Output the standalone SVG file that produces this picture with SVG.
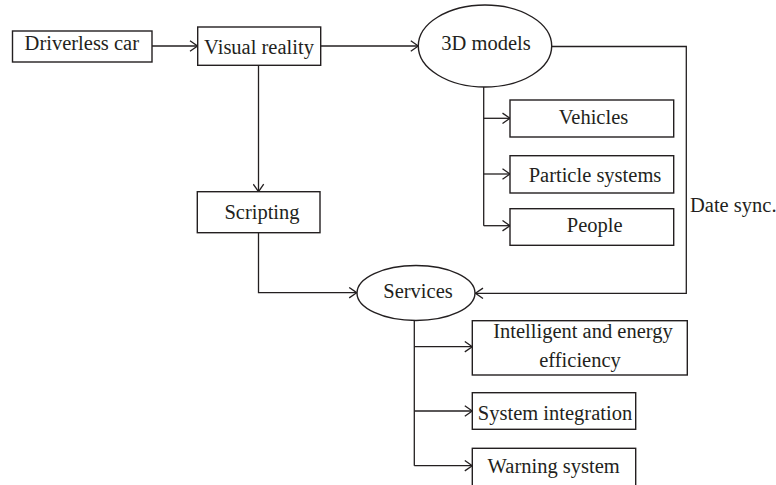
<svg xmlns="http://www.w3.org/2000/svg" width="776" height="485" viewBox="0 0 776 485" font-family="'Liberation Serif', 'DejaVu Serif', 'Times New Roman', serif">
<defs>
<marker id="arr" viewBox="0 0 10 12" refX="9.5" refY="6" markerWidth="10" markerHeight="12" markerUnits="userSpaceOnUse" orient="auto">
<path d="M2,0.8 L9.5,6 L2,11.2" fill="none" stroke="#231f20" stroke-width="1.3"/>
</marker>
<style>
.box{fill:#fff;stroke:#231f20;stroke-width:1.4}
.ln{fill:none;stroke:#231f20;stroke-width:1.3}
text{font-family:'Liberation Serif','DejaVu Serif',serif;font-size:20.5px;fill:#231f20;text-anchor:middle}
</style>
</defs>
<rect width="776" height="485" fill="#fff"/>
<g id="connectors">
<line class="ln" x1="152" y1="46" x2="197.5" y2="46" marker-end="url(#arr)"/>
<line class="ln" x1="320.7" y1="46" x2="418.3" y2="46" marker-end="url(#arr)"/>
<line class="ln" x1="258.5" y1="65.3" x2="258.5" y2="191.7" marker-end="url(#arr)"/>
<polyline class="ln" points="258.5,232.7 258.5,292.7 356.7,292.7" marker-end="url(#arr)"/>
<polyline class="ln" points="551.7,46.5 686.3,46.5 686.3,293.3 475.5,293.3" marker-end="url(#arr)"/>
<line class="ln" x1="483.7" y1="87" x2="483.7" y2="225.7"/>
<line class="ln" x1="483.7" y1="118.3" x2="510" y2="118.3" marker-end="url(#arr)"/>
<line class="ln" x1="483.7" y1="174" x2="510" y2="174" marker-end="url(#arr)"/>
<line class="ln" x1="483.7" y1="225.7" x2="510" y2="225.7" marker-end="url(#arr)"/>
<line class="ln" x1="414.3" y1="320" x2="414.3" y2="465.7"/>
<line class="ln" x1="414.3" y1="346.7" x2="472.3" y2="346.7" marker-end="url(#arr)"/>
<line class="ln" x1="414.3" y1="411" x2="472.3" y2="411" marker-end="url(#arr)"/>
<line class="ln" x1="414.3" y1="465.7" x2="472.3" y2="465.7" marker-end="url(#arr)"/>
<text x="690" y="211.5" style="text-anchor:start">Date sync.</text>
</g>
<g id="driverless-car">
<rect class="box" x="12.5" y="31" width="139.5" height="31"/>
<text x="81.8" y="50">Driverless car</text>
</g>
<g id="visual-reality">
<rect class="box" x="197.7" y="27" width="123" height="38.3"/>
<text x="259" y="54">Visual reality</text>
</g>
<g id="models-3d">
<ellipse class="box" cx="485" cy="46" rx="66.7" ry="41"/>
<text x="486" y="50">3D models</text>
</g>
<g id="vehicles">
<rect class="box" x="510" y="100" width="163.7" height="37"/>
<text x="593.5" y="124">Vehicles</text>
</g>
<g id="particle-systems">
<rect class="box" x="510" y="155.7" width="163.7" height="37.3"/>
<text x="595" y="181.7">Particle systems</text>
</g>
<g id="people">
<rect class="box" x="510" y="208.7" width="163.7" height="36.6"/>
<text x="594.7" y="231.7">People</text>
</g>
<g id="scripting">
<rect class="box" x="197.3" y="191.7" width="122.7" height="41"/>
<text x="262" y="219">Scripting</text>
</g>
<g id="services">
<ellipse class="box" cx="416" cy="293" rx="59" ry="27.5"/>
<text x="418" y="298.3">Services</text>
</g>
<g id="intelligent-energy">
<rect class="box" x="472.3" y="320.7" width="215" height="54.3"/>
<text x="583" y="338.3">Intelligent and energy</text>
<text x="580" y="366.7">efficiency</text>
</g>
<g id="system-integration">
<rect class="box" x="472.3" y="392.7" width="163.4" height="36.6"/>
<text x="555" y="420">System integration</text>
</g>
<g id="warning-system">
<rect class="box" x="472.3" y="448.3" width="163.4" height="40"/>
<text x="553.7" y="473.3">Warning system</text>
</g>
</svg>
